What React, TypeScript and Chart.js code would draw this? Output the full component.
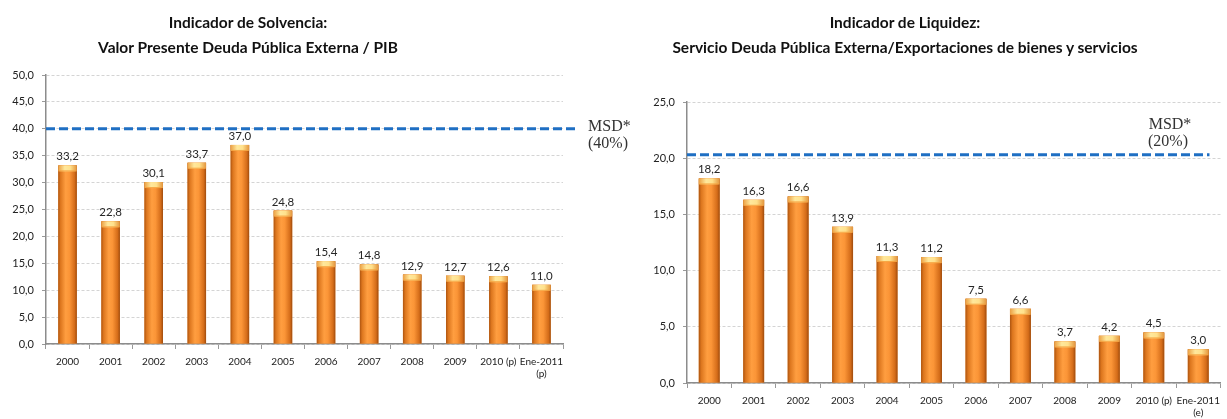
import React, { useEffect, useRef } from 'react';
import { Chart, registerables } from 'chart.js';

Chart.register(...registerables);

// ---------- Data ----------
const solvenciaLabels: (string | string[])[] = ['2000', '2001', '2002', '2003', '2004', '2005', '2006', '2007', '2008', '2009', '2010 (p)', ['Ene-2011', '(p)']];
const solvenciaValues = [33.2, 22.8, 30.1, 33.7, 37.0, 24.8, 15.4, 14.8, 12.9, 12.7, 12.6, 11.0];
const solvenciaMax = 50;
const solvenciaStep = 5;
const solvenciaThreshold = 40;
const solvenciaThresholdText = ['MSD*', '(40%)'];
const solvenciaTitle = ['Indicador de Solvencia:', 'Valor Presente Deuda Pública Externa / PIB'];

const liquidezLabels: (string | string[])[] = ['2000', '2001', '2002', '2003', '2004', '2005', '2006', '2007', '2008', '2009', '2010 (p)', ['Ene-2011', '(e)']];
const liquidezValues = [18.2, 16.3, 16.6, 13.9, 11.3, 11.2, 7.5, 6.6, 3.7, 4.2, 4.5, 3.0];
const liquidezMax = 25;
const liquidezStep = 5;
const liquidezThreshold = 20.3;
const liquidezThresholdText = ['MSD*', '(20%)'];
const liquidezTitle = ['Indicador de Liquidez:', 'Servicio Deuda Pública Externa/Exportaciones de bienes y servicios'];

const fmt = (v: number) => v.toFixed(1).replace('.', ',');
const SANS = 'Lato, "Open Sans", sans-serif';
const SERIF = '"Liberation Serif", "DejaVu Serif", serif';

type ChartProps = {
  labels: (string | string[])[];
  values: number[];
  max: number;
  step: number;
  threshold: number;
  width: number;
  height: number;
  area: { left: number; right: number; top: number; bottom: number };
  lineEndOffset: number;
  barPct: number;
};

function BarChart(p: ChartProps) {
  const ref = useRef<HTMLCanvasElement | null>(null);
  useEffect(() => {
    if (!ref.current) return;
    const decor = {
      id: 'decor',
      afterDatasetsDraw(chart: any) {
        const ctx = chart.ctx as CanvasRenderingContext2D;
        const meta = chart.getDatasetMeta(0);
        ctx.save();
        meta.data.forEach((el: any, i: number) => {
          const { x, y, base, width } = el.getProps(['x', 'y', 'base', 'width'], true);
          const l = x - width / 2;
          const h = base - y;
          const g = ctx.createLinearGradient(l, 0, l + width, 0);
          g.addColorStop(0, '#ad5410');
          g.addColorStop(0.12, '#dc761e');
          g.addColorStop(0.4, '#ff9e40');
          g.addColorStop(0.6, '#fb9537');
          g.addColorStop(0.88, '#d46c19');
          g.addColorStop(1, '#9e4b0e');
          ctx.fillStyle = g;
          ctx.fillRect(l, y, width, h);
          // top cap
          const capH = Math.min(6, h);
          const cg = ctx.createLinearGradient(l, 0, l + width, 0);
          cg.addColorStop(0, '#eba043');
          cg.addColorStop(0.35, '#ffe89c');
          cg.addColorStop(0.65, '#ffe18c');
          cg.addColorStop(1, '#e3953d');
          ctx.fillStyle = cg;
          ctx.fillRect(l, y, width, capH);
          ctx.fillStyle = 'rgba(245,160,60,0.9)';
          ctx.fillRect(l + 1, y + capH - 1, width - 2, 1);
          // value label
          ctx.fillStyle = '#262626';
          ctx.font = `11.5px ${SANS}`;
          ctx.textAlign = 'center';
          ctx.textBaseline = 'bottom';
          ctx.fillText(fmt(p.values[i]), x, y - 3);
        });
        // threshold line
        const ys = chart.scales.y.getPixelForValue(p.threshold);
        ctx.strokeStyle = '#1f6fc3';
        ctx.lineWidth = 3;
        ctx.setLineDash([9, 4]);
        ctx.beginPath();
        ctx.moveTo(chart.chartArea.left, ys);
        ctx.lineTo(chart.chartArea.right + p.lineEndOffset, ys);
        ctx.stroke();
        ctx.setLineDash([]);
        ctx.restore();
      },
    };

    const chart = new Chart(ref.current, {
      type: 'bar',
      data: {
        labels: p.labels as any,
        datasets: [
          {
            data: p.values,
            backgroundColor: '#f08a2a',
            borderWidth: 0,
            categoryPercentage: 1,
            barPercentage: p.barPct,
          },
        ],
      },
      options: {
        responsive: false,
        animation: false,
        devicePixelRatio: 1,
        layout: {
          padding: { left: 0, top: p.area.top, right: p.width - p.area.right, bottom: 0 },
        },
        plugins: { legend: { display: false }, tooltip: { enabled: false }, title: { display: false } },
        scales: {
          x: {
            offset: true,
            afterFit: (s: any) => {
              s.height = p.height - p.area.bottom;
            },
            grid: {
              display: true,
              drawOnChartArea: false,
              drawTicks: true,
              tickLength: 5,
              tickColor: '#999999',
              tickWidth: 1,
              offset: true,
            },
            border: { display: true, color: '#8c8c8c', width: 1.5 },
            ticks: {
              color: '#222222',
              font: { family: SANS, size: 10 },
              padding: 7,
              maxRotation: 0,
              autoSkip: false,
            },
          },
          y: {
            min: 0,
            max: p.max,
            afterFit: (s: any) => {
              s.width = p.area.left;
            },
            grid: {
              color: '#d4d4d4',
              lineWidth: 1,
              drawTicks: true,
              tickLength: 4,
              tickColor: '#999999',
              tickBorderDash: [],
            },
            border: { display: true, color: '#8c8c8c', width: 1.5, dash: [3, 2] },
            ticks: {
              stepSize: p.step,
              color: '#222222',
              font: { family: SANS, size: 11 },
              padding: 8,
              callback: (v: any) => fmt(Number(v)),
            },
          },
        },
      },
      plugins: [decor],
    } as any);
    return () => chart.destroy();
  }, []);
  return <canvas ref={ref} width={p.width} height={p.height} style={{ display: 'block', width: p.width, height: p.height }} />;
}

const titleStyle: React.CSSProperties = {
  position: 'absolute',
  top: 10,
  textAlign: 'center',
  fontFamily: SANS,
  fontWeight: 700,
  fontSize: 15.5,
  lineHeight: '25px',
  color: '#111111',
  whiteSpace: 'nowrap',
};

const msdStyle: React.CSSProperties = {
  position: 'absolute',
  fontFamily: SERIF,
  fontSize: 16,
  lineHeight: '17px',
  color: '#333333',
  whiteSpace: 'nowrap',
};

export default function App() {
  return (
    <div style={{ position: 'relative', width: 1227, height: 419, overflow: 'hidden', background: '#ffffff' }}>
      <style>{'body{margin:0;}'}</style>
      <div style={{ position: 'absolute', left: 0, top: 0 }}>
        <BarChart
          labels={solvenciaLabels}
          values={solvenciaValues}
          max={solvenciaMax}
          step={solvenciaStep}
          threshold={solvenciaThreshold}
          width={620}
          height={419}
          area={{ left: 46, right: 563, top: 75, bottom: 344 }}
          lineEndOffset={12}
          barPct={0.43}
        />
      </div>
      <div style={{ position: 'absolute', left: 620, top: 0 }}>
        <BarChart
          labels={liquidezLabels}
          values={liquidezValues}
          max={liquidezMax}
          step={liquidezStep}
          threshold={liquidezThreshold}
          width={607}
          height={419}
          area={{ left: 67, right: 606, top: 102, bottom: 383 }}
          lineEndOffset={-11}
          barPct={0.47}
        />
      </div>
      <div style={{ ...titleStyle, left: 48, width: 400 }}>
        <div>{solvenciaTitle[0]}</div>
        <div>{solvenciaTitle[1]}</div>
      </div>
      <div style={{ ...titleStyle, left: 605, width: 600 }}>
        <div>{liquidezTitle[0]}</div>
        <div>{liquidezTitle[1]}</div>
      </div>
      <div style={{ ...msdStyle, left: 588, top: 117 }}>
        <div>{solvenciaThresholdText[0]}</div>
        <div>{solvenciaThresholdText[1]}</div>
      </div>
      <div style={{ ...msdStyle, left: 1148, top: 115 }}>
        <div style={{ textAlign: 'center', width: 44 }}>{liquidezThresholdText[0]}</div>
        <div>{liquidezThresholdText[1]}</div>
      </div>
    </div>
  );
}
